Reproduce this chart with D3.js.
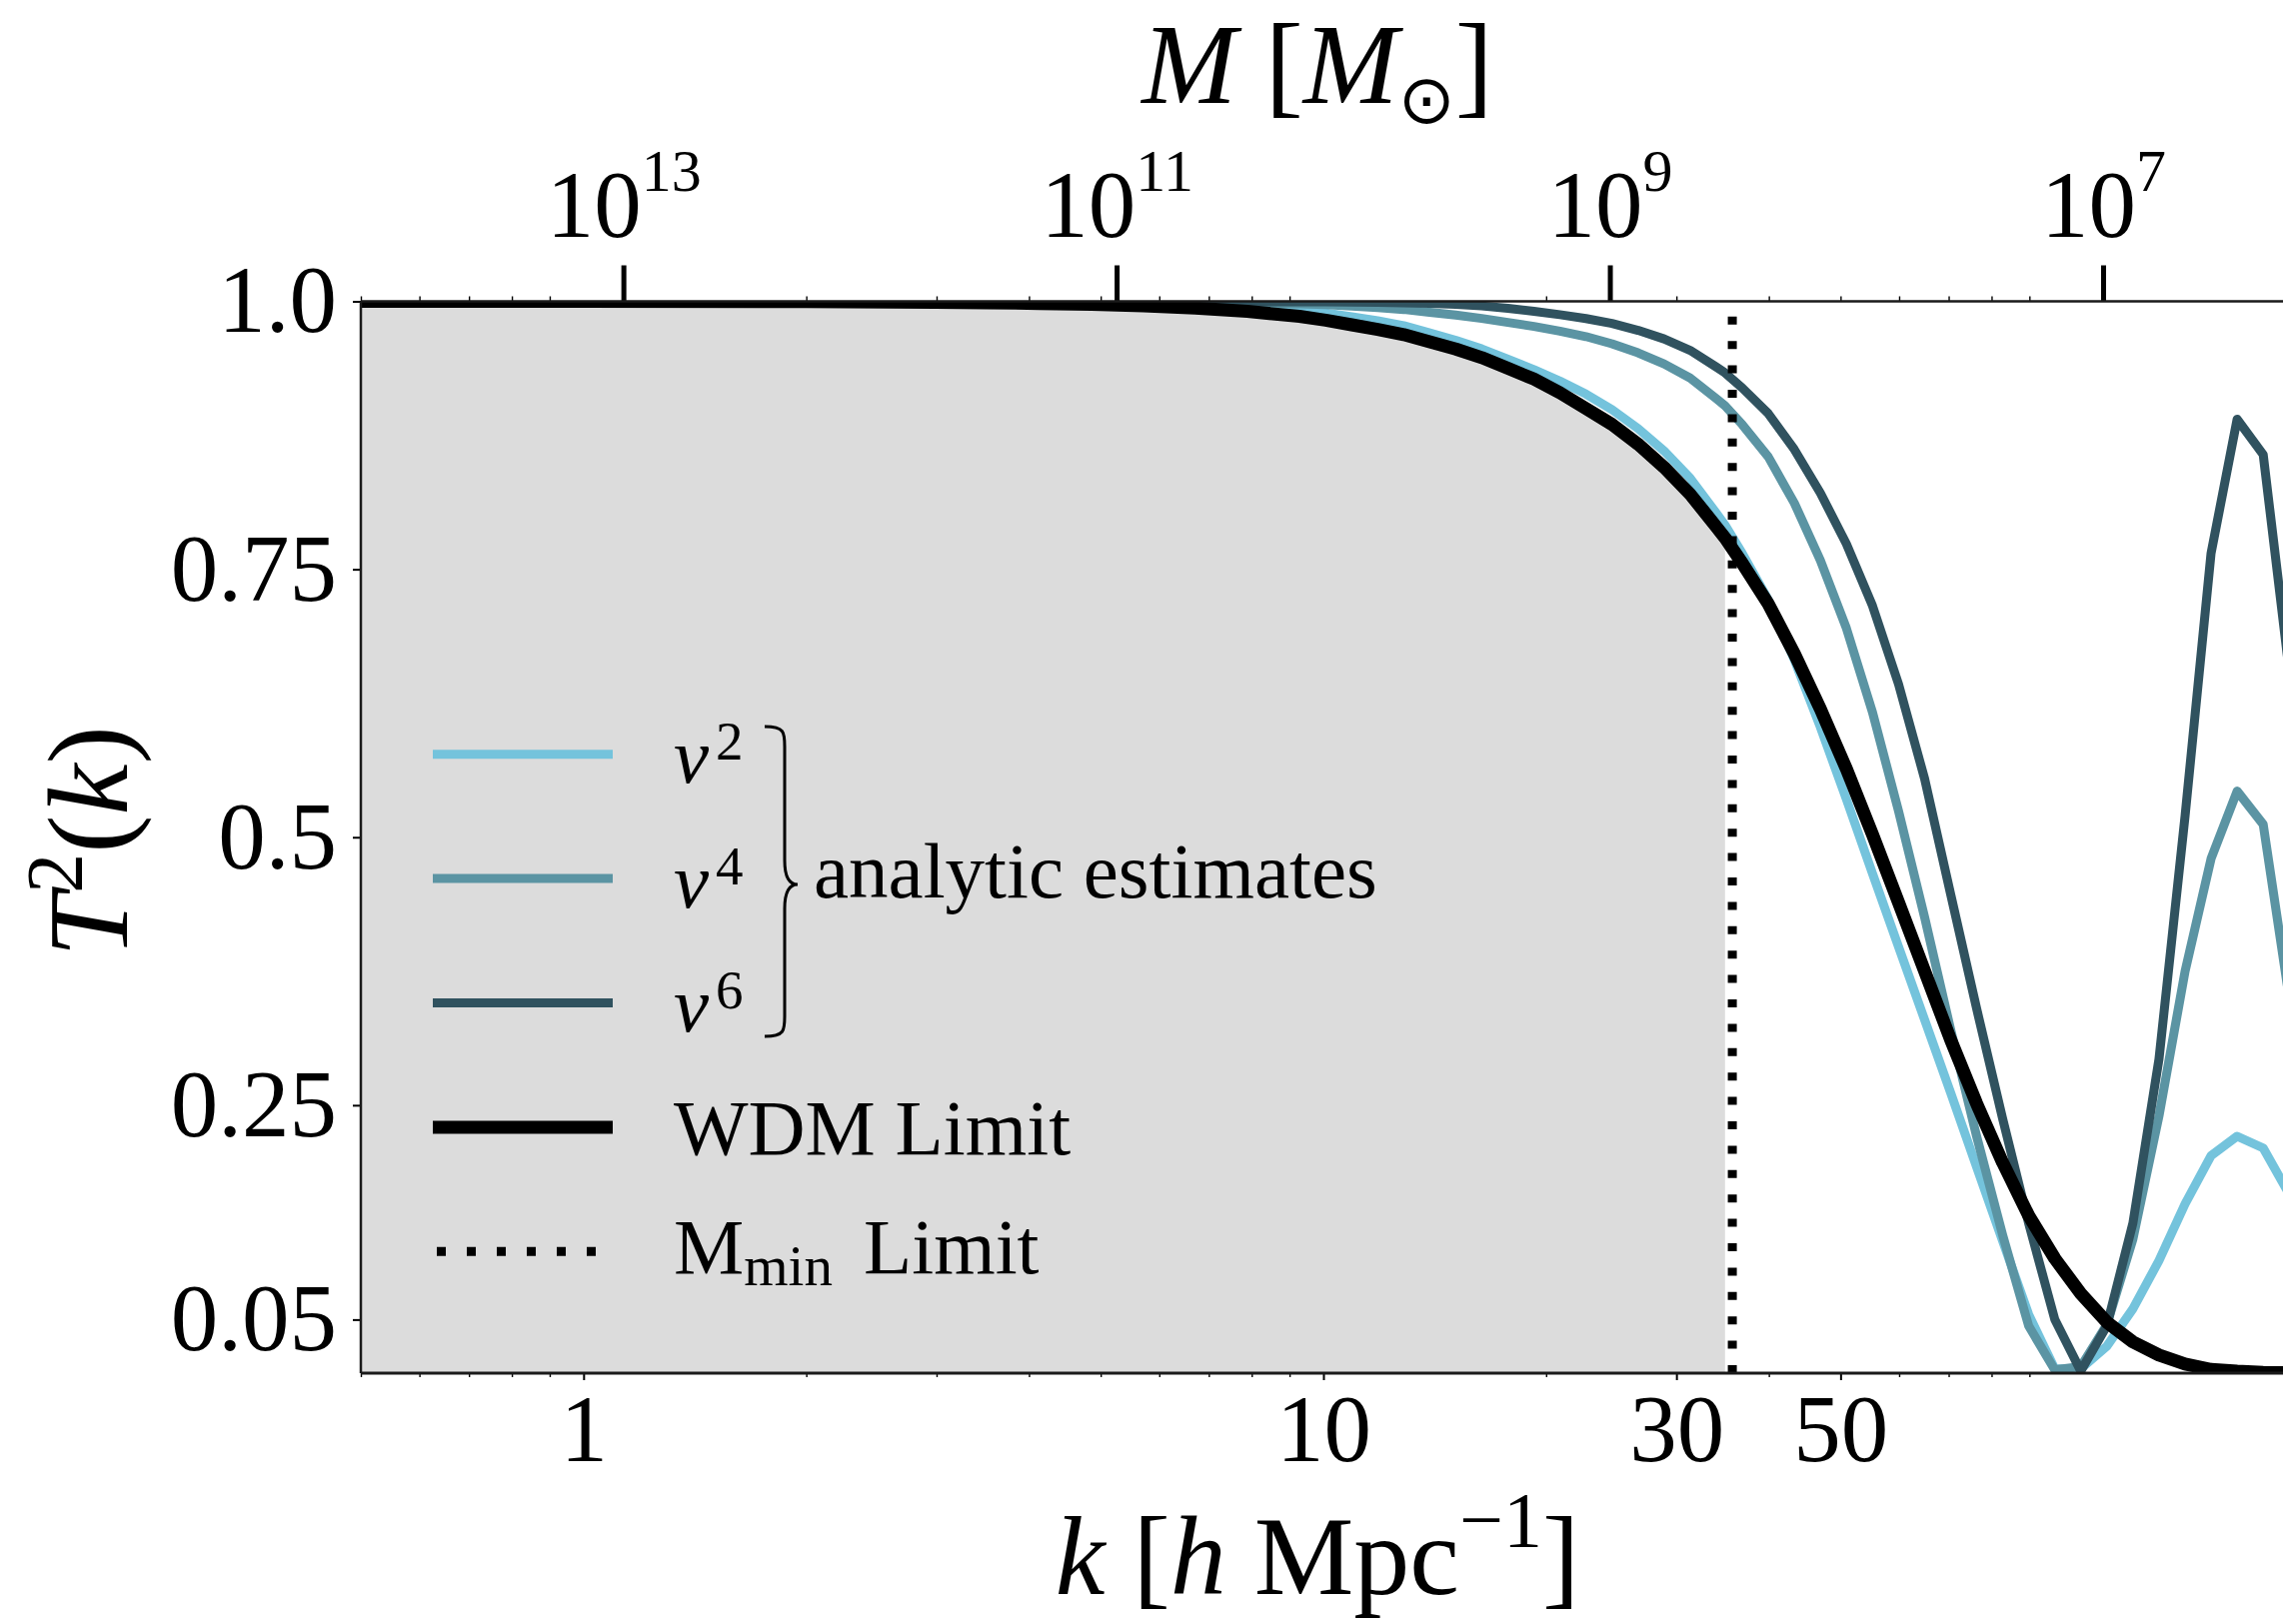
<!DOCTYPE html>
<html><head><meta charset="utf-8">
<script src="https://cdn.jsdelivr.net/npm/d3@7"></script>
<style>
html,body{margin:0;padding:0;background:#fff;overflow:hidden}
svg{display:block}
</style></head><body>
<svg id="chart" width="2284" height="1625"></svg>
<script>
// ---------------- data ----------------
const kGrid = [0.5, 1, 2, 2.99, 3.51, 4.13, 4.86, 5.71, 6.71, 7.89, 9.28,
  10.07, 10.92, 11.84, 12.84, 13.92, 15.10, 16.37, 17.76, 19.26, 20.88, 22.64, 24.55, 26.63, 28.87, 31.31, 33.95,
  34.9,
  36.82, 39.93, 43.30, 46.95, 50.92, 55.22, 59.88, 64.94, 70.42, 76.37, 82.81, 89.80, 97.39, 105.6, 114.5,
  124.2, 134.7, 146.1, 158.4, 171.8, 186.3, 202.0];
const wdm = [1.0, 0.9999, 0.9997, 0.9991, 0.9987, 0.998, 0.9971, 0.9957, 0.9937, 0.9906, 0.986,
  0.9824, 0.9781, 0.9738, 0.9689, 0.9622, 0.9555, 0.9475, 0.9375, 0.9274, 0.9147, 0.9, 0.8852, 0.8667, 0.8452, 0.8201, 0.7898,
  0.7793,
  0.7557, 0.7177, 0.6714, 0.6198, 0.5637, 0.5027, 0.4393, 0.3753, 0.3112, 0.2515, 0.1965, 0.1469, 0.107, 0.0742, 0.0476,
  0.0291, 0.0169, 0.0085, 0.0035, 0.0018, 0.0007, 0.0003];
const v2 = [1.0, 1.0, 0.9999, 0.9997, 0.9995, 0.9992, 0.9988, 0.998, 0.9967, 0.9948, 0.9912,
  0.9892, 0.9855, 0.9818, 0.9773, 0.9705, 0.9636, 0.9556, 0.9459, 0.9363, 0.9255, 0.9135, 0.899, 0.8813, 0.8604, 0.8351, 0.8026,
  0.7913,
  0.7649, 0.7214, 0.6655, 0.6028, 0.5354, 0.4662, 0.3979, 0.3298, 0.2617, 0.1923, 0.1232, 0.0547, 0.004, 0.004, 0.025,
  0.06, 0.105, 0.158, 0.203, 0.221, 0.21, 0.167];
const v4 = [1.0, 1.0, 1.0, 0.9999, 0.9999, 0.9998, 0.9998, 0.9997, 0.9993, 0.9988, 0.9976,
  0.9969, 0.9955, 0.9941, 0.9924, 0.9897, 0.9871, 0.984, 0.9803, 0.9766, 0.9722, 0.9671, 0.9604, 0.9519, 0.9416, 0.9284, 0.9093,
  0.9026,
  0.885, 0.8549, 0.8118, 0.7583, 0.6949, 0.6166, 0.5246, 0.4255, 0.3207, 0.2209, 0.1287, 0.044, 0.003, 0.006, 0.045,
  0.125, 0.24, 0.375, 0.48, 0.543, 0.512, 0.35];
const v6 = [1.0, 1.0, 1.0, 1.0, 1.0, 0.9999, 0.9999, 0.9998, 0.9997, 0.9996, 0.9995,
  0.9995, 0.9993, 0.999, 0.9987, 0.9981, 0.9972, 0.9957, 0.9935, 0.9907, 0.9875, 0.9839, 0.9793, 0.9729, 0.9649, 0.9543, 0.9388,
  0.9333,
  0.9192, 0.8953, 0.8618, 0.8212, 0.7737, 0.716, 0.643, 0.5548, 0.447, 0.34, 0.2373, 0.1396, 0.0502, 0.002, 0.044,
  0.14, 0.293, 0.52, 0.765, 0.89, 0.857, 0.655];

const kMin = 35.7;        // M_min limit (dotted vertical line)
const kFillEnd = 34.9;    // last sample below the M_min limit (grey region)
const kDomain = [0.5, 200];
const kMajorTicks = [1, 10, 30, 50];
const kTickLabels = ["1", "10", "30", "50"];
const yTicks = [0.05, 0.25, 0.5, 0.75, 1.0];
const yTickLabels = ["0.05", "0.25", "0.5", "0.75", "1.0"];
const massTicks = [1e13, 1e11, 1e9, 1e7];
const massTickExponents = ["13", "11", "9", "7"];
const massPerK3 = 1.45e13;  // M = massPerK3 * k^-3  [M_sun]

const seriesKeys = ["v2", "v4", "v6"];
const seriesExponents = ["2", "4", "6"];
const colors = {v2: "#74c3dc", v4: "#5b94a3", v6: "#30525f", wdm: "#000000"};

// ---------------- layout ----------------
const SERIF = "'Liberation Serif','Times New Roman',serif";
const X0 = 361, X1 = 2287, Y0 = 1374, Y1 = 301.5;
const svg = d3.select("#chart");

const x = d3.scaleLog().domain(kDomain).range([X0, X1]);
const y = d3.scaleLinear().domain([0, 1]).range([Y0, Y1]);
const mScale = d3.scaleLog()
  .domain([massPerK3 * Math.pow(kDomain[0], -3), massPerK3 * Math.pow(kDomain[1], -3)])
  .range([X0, X1]);

svg.append("defs").append("clipPath").attr("id", "clip")
  .append("rect").attr("x", X0).attr("y", Y1).attr("width", X1 - X0).attr("height", Y0 - Y1);

const pts = kGrid.map((k, i) => ({k, wdm: wdm[i], v2: v2[i], v4: v4[i], v6: v6[i]}));
const plot = svg.append("g").attr("clip-path", "url(#clip)");

// grey shaded region under the WDM curve up to the M_min limit
plot.append("path")
  .datum(pts.filter(d => d.k <= kFillEnd))
  .attr("fill", "#dcdcdc")
  .attr("d", d3.area().x(d => x(d.k)).y0(y(0)).y1(d => y(d.wdm)));

// analytic estimates
seriesKeys.forEach(key => {
  plot.append("path").datum(pts)
    .attr("fill", "none").attr("stroke", colors[key]).attr("stroke-width", 9)
    .attr("stroke-linejoin", "round")
    .attr("d", d3.line().x(d => x(d.k)).y(d => y(d[key])));
});
// WDM limit
plot.append("path").datum(pts)
  .attr("fill", "none").attr("stroke", colors.wdm).attr("stroke-width", 13)
  .attr("stroke-linejoin", "round")
  .attr("d", d3.line().x(d => x(d.k)).y(d => y(d.wdm)));

// M_min limit
plot.append("path")
  .attr("d", d3.line()([[x(kMin), y(0)], [x(kMin), y(1)]]))
  .attr("stroke", "#000").attr("stroke-width", 9).attr("stroke-dasharray", "8 16.4")
  .attr("fill", "none");

// ---------------- axes ----------------
const minorK = [];
[0.1, 1, 10, 100].forEach(dec => { for (let m = 2; m <= 9; m++) { const v = dec * m; if (v >= kDomain[0] && v <= kDomain[1]) minorK.push(v); } });

function styleAxis(g, fs) {
  g.attr("font-family", SERIF).attr("font-size", fs);
  g.select(".domain").remove();
  g.selectAll("text").attr("fill", "#000");
  g.selectAll(".tick line").attr("stroke", "#000");
  return g;
}

// bottom
const gBmin = svg.append("g").attr("transform", `translate(0,${Y0})`)
  .call(d3.axisBottom(x).tickValues(minorK.filter(v => !kMajorTicks.includes(v))).tickSize(4).tickFormat(() => ""));
styleAxis(gBmin, 10).selectAll(".tick line").attr("stroke-width", 1.4);
const gB = svg.append("g").attr("transform", `translate(0,${Y0})`)
  .call(d3.axisBottom(x).tickValues(kMajorTicks).tickSize(7).tickPadding(14)
    .tickFormat((d, i) => kTickLabels[i]));
styleAxis(gB, 95).selectAll(".tick line").attr("stroke-width", 2);

// left
const gL = svg.append("g").attr("transform", `translate(${X0},0)`)
  .call(d3.axisLeft(y).tickValues(yTicks).tickSize(8).tickPadding(16)
    .tickFormat((d, i) => yTickLabels[i]));
styleAxis(gL, 95).selectAll(".tick line").attr("stroke-width", 2);

// top (halo mass)
const gTmin = svg.append("g").attr("transform", `translate(0,${Y1})`)
  .call(d3.axisTop(x).tickValues(minorK).tickSize(5).tickFormat(() => ""));
styleAxis(gTmin, 10).selectAll(".tick line").attr("stroke-width", 1.4);
const gT = svg.append("g").attr("transform", `translate(0,${Y1})`)
  .call(d3.axisTop(mScale).tickValues(massTicks).tickSize(36).tickPadding(29).tickFormat(() => "10"));
styleAxis(gT, 95).selectAll(".tick line").attr("stroke-width", 5);
gT.selectAll(".tick text").each(function (d, i) {
  d3.select(this).append("tspan").attr("font-size", 60).attr("dy", -46).text(massTickExponents[i]);
});

// spines
const spines = svg.append("g").attr("stroke", "#1a1a1a").attr("fill", "none");
spines.append("line").attr("x1", X0).attr("x2", X1).attr("y1", Y1).attr("y2", Y1).attr("stroke-width", 2.5);
spines.append("line").attr("x1", X0).attr("x2", X1).attr("y1", Y0).attr("y2", Y0).attr("stroke-width", 3);
spines.append("line").attr("x1", X0).attr("x2", X0).attr("y1", Y1).attr("y2", Y0).attr("stroke-width", 2.5);
spines.append("line").attr("x1", X1).attr("x2", X1).attr("y1", Y1).attr("y2", Y0).attr("stroke-width", 2.5);

// ---------------- axis labels ----------------
const xl = svg.append("text").attr("x", 1318).attr("y", 1595).attr("text-anchor", "middle")
  .attr("font-family", SERIF).attr("font-size", 112);
xl.append("tspan").attr("font-style", "italic").text("k");
xl.append("tspan").text(" [");
xl.append("tspan").attr("font-style", "italic").text("h");
xl.append("tspan").text(" Mpc");
xl.append("tspan").attr("font-size", 78).attr("dy", -48).text("\u22121");
xl.append("tspan").attr("dy", 48).text("]");

const tl = svg.append("text").attr("x", 1318).attr("y", 103).attr("text-anchor", "middle")
  .attr("font-family", SERIF).attr("font-size", 114);
tl.append("tspan").attr("font-style", "italic").text("M");
tl.append("tspan").text(" [");
tl.append("tspan").attr("font-style", "italic").text("M");
tl.append("tspan").attr("font-family", "'DejaVu Sans',sans-serif").attr("font-size", 68).attr("dy", 20).text("\u2299");
tl.append("tspan").attr("dy", -20).text("]");

const yl = svg.append("text").attr("transform", "translate(127,842) rotate(-90)").attr("text-anchor", "middle")
  .attr("font-family", SERIF).attr("font-size", 115);
yl.append("tspan").attr("font-style", "italic").text("T");
yl.append("tspan").attr("font-size", 80).attr("dy", -45).text("2");
yl.append("tspan").attr("dy", 45).text("(");
yl.append("tspan").attr("font-style", "italic").text("k");
yl.append("tspan").text(")");

// ---------------- legend ----------------
const legY0 = 754.7, legStep = 124.4, legX1 = 433, legX2 = 613, legTx = 674, legFs = 79;
const lg = svg.append("g").attr("font-family", SERIF).attr("font-size", legFs);
seriesKeys.forEach((key, i) => {
  const yy = legY0 + i * legStep;
  lg.append("line").attr("x1", legX1).attr("x2", legX2).attr("y1", yy).attr("y2", yy)
    .attr("stroke", colors[key]).attr("stroke-width", 9);
  const t = lg.append("text").attr("x", legTx).attr("y", yy + 28.6);
  t.append("tspan").attr("font-style", "italic").text("v");
  t.append("tspan").attr("font-size", 55).attr("dx", 7).attr("dy", -23).text(seriesExponents[i]);
});
// brace grouping the analytic estimates
const bx0 = 765, bx1 = 785, bx2 = 798, by0 = 727, byM = 885, by1 = 1037;
lg.append("path").attr("fill", "none").attr("stroke", "#000").attr("stroke-width", 3)
  .attr("d", `M${bx0},${by0} C${bx1},${by0} ${bx1},${by0 + 6} ${bx1},${by0 + 20}
    L${bx1},${byM - 24} C${bx1},${byM - 8} ${bx1 + 4},${byM} ${bx2},${byM}
    C${bx1 + 4},${byM} ${bx1},${byM + 8} ${bx1},${byM + 24}
    L${bx1},${by1 - 20} C${bx1},${by1 - 6} ${bx1},${by1} ${bx0},${by1}`);
lg.append("text").attr("x", 814).attr("y", 898).text("analytic estimates");

const yW = legY0 + 3 * legStep;
lg.append("line").attr("x1", legX1).attr("x2", legX2).attr("y1", yW).attr("y2", yW)
  .attr("stroke", colors.wdm).attr("stroke-width", 13);
lg.append("text").attr("x", legTx).attr("y", yW + 27).text("WDM Limit");

const yM = legY0 + 4 * legStep;
lg.append("line").attr("x1", 437).attr("x2", 600).attr("y1", yM).attr("y2", yM)
  .attr("stroke", "#000").attr("stroke-width", 9).attr("stroke-dasharray", "9 21");
const mt = lg.append("text").attr("x", legTx).attr("y", yM + 22);
mt.append("tspan").text("M");
mt.append("tspan").attr("font-size", 57).attr("dy", 12).text("min");
mt.append("tspan").attr("dy", -12).attr("x", 864).text("Limit");
</script>
</body></html>
